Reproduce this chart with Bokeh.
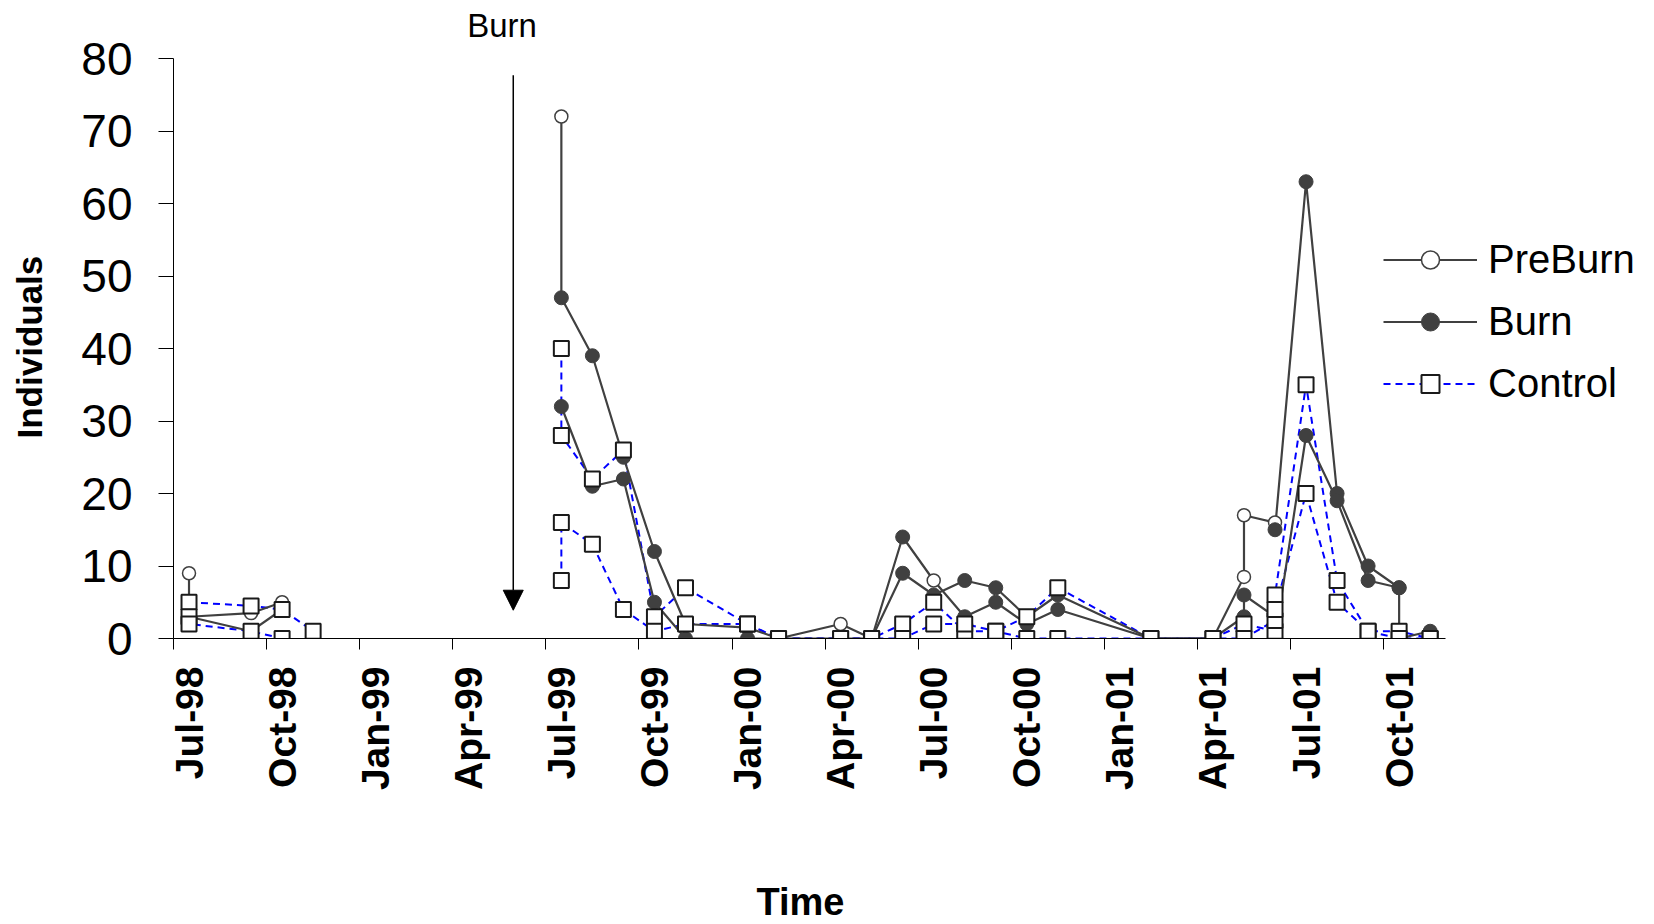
import math
from bokeh.plotting import figure
from bokeh.models import (FixedTicker, Range1d, Legend, LegendItem, Title, Label,
                          Arrow, NormalHead)
from bokeh.embed import file_html
from bokeh.resources import INLINE

# ---------------- data ----------------
tick_labels = ["Jul-98", "Oct-98", "Jan-99", "Apr-99", "Jul-99", "Oct-99", "Jan-00",
               "Apr-00", "Jul-00", "Oct-00", "Jan-01", "Apr-01", "Jul-01", "Oct-01"]
tick_dates = ["1998-07", "1998-10", "1999-01", "1999-04", "1999-07", "1999-10", "2000-01",
              "2000-04", "2000-07", "2000-10", "2001-01", "2001-04", "2001-07", "2001-10"]
y_ticks = [0, 10, 20, 30, 40, 50, 60, 70, 80]

# burn sites, pre-burn sampling (1998)
pre_a_dates = ["1998-07", "1998-07", "1998-09", "1998-10"]
pre_a_vals = [9, 3, 3.5, 5]
pre_b_dates = ["1998-07", "1998-09", "1998-10"]
pre_b_vals = [3, 1, 4]

# burn site A (P = PreBurn marker, B = Burn marker)
burn_a_dates = ["1999-07", "1999-07", "1999-08", "1999-09", "1999-10", "1999-11", "2000-01",
                "2000-02", "2000-04", "2000-05", "2000-06", "2000-07", "2000-08", "2000-09",
                "2000-10", "2000-11", "2001-02", "2001-04", "2001-05", "2001-05", "2001-06",
                "2001-06", "2001-07", "2001-08", "2001-09", "2001-10", "2001-10", "2001-11"]
burn_a_vals = [72, 47, 39, 25, 12, 2, 1.5, 0, 2, 0, 14, 8, 3, 5, 2, 4, 0, 0, 8.5, 17, 16,
               15, 63, 20, 10, 7, 0, 1]
burn_a_phase = ["P", "B", "B", "B", "B", "B", "B", "B", "P", "B", "B", "P", "B", "B",
                "B", "B", "B", "B", "P", "P", "P", "B", "B", "B", "B", "B", "B", "B"]

# burn site B
burn_b_dates = ["1999-07", "1999-08", "1999-09", "1999-10", "1999-11", "2000-01", "2000-02",
                "2000-04", "2000-05", "2000-06", "2000-07", "2000-08", "2000-09", "2000-10",
                "2000-11", "2001-02", "2001-04", "2001-05", "2001-05", "2001-06", "2001-06",
                "2001-07", "2001-08", "2001-09", "2001-10"]
burn_b_vals = [32, 21, 22, 5, 0, 0, 0, 0, 0, 9, 6, 8, 7, 3, 6, 0, 0, 3, 6, 3, 0, 28, 19, 8, 7]

# control sites, 1998
ctrl98_a_dates = ["1998-07", "1998-09", "1998-10", "1998-11"]
ctrl98_a_vals = [5, 4.5, 4, 1]
ctrl98_b_dates = ["1998-07", "1998-07", "1998-09", "1998-10"]
ctrl98_b_vals = [3, 2, 1, 0]

# control sites, 1999-2001
ctrl_a_dates = ["1999-07", "1999-07", "1999-08", "1999-09", "1999-10", "1999-11", "2000-01",
                "2000-02", "2000-04", "2000-05", "2000-06", "2000-07", "2000-08", "2000-09",
                "2000-10", "2000-11", "2001-02", "2001-04", "2001-05", "2001-06", "2001-06",
                "2001-07", "2001-08", "2001-09", "2001-10", "2001-11"]
ctrl_a_vals = [40, 28, 22, 26, 3, 7, 2, 0, 0, 0, 2, 5, 1, 1, 3, 7, 0, 0, 2, 1, 6, 35, 8, 1, 1, 0]
ctrl_b_dates = ["1999-07", "1999-07", "1999-08", "1999-09", "1999-10", "1999-11", "2000-01",
                "2000-02", "2000-04", "2000-05", "2000-06", "2000-07", "2000-08", "2000-09",
                "2000-10", "2000-11", "2001-02", "2001-04", "2001-05", "2001-06", "2001-06",
                "2001-07", "2001-08", "2001-09", "2001-10", "2001-11"]
ctrl_b_vals = [8, 16, 13, 4, 1, 2, 2, 0, 0, 0, 0, 2, 2, 1, 0, 0, 0, 0, 0, 2.5, 4, 20, 5, 1, 0, 0]

burn_event_month = 10.95      # months after start of Jul-98
burn_arrow_top = 77.7
burn_arrow_tip = 3.9
burn_text_month = 10.59
burn_text_y = 84.6


def mpos(s):
    y, m = map(int, s.split("-"))
    return (y - 1998) * 12 + (m - 7) + 0.5


GRAY = "#404040"
BLUE = "#0000ff"
FONT = "Liberation Sans"
N_MONTHS = 41
Y_MAX = 80

p = figure(width=1654, height=924, x_range=Range1d(0, 47.73), y_range=Range1d(0, 88.0),
           output_backend="svg", toolbar_location=None,
           min_border_left=173, min_border_right=0, min_border_top=0, min_border_bottom=286)
p.xgrid.visible = False
p.ygrid.visible = False
p.outline_line_color = None
p.background_fill_color = "white"

# ---- lines ----
ctrl_series = [(ctrl98_a_dates, ctrl98_a_vals), (ctrl98_b_dates, ctrl98_b_vals),
               (ctrl_a_dates, ctrl_a_vals), (ctrl_b_dates, ctrl_b_vals)]
solid_series = [(pre_a_dates, pre_a_vals), (pre_b_dates, pre_b_vals),
                (burn_a_dates, burn_a_vals), (burn_b_dates, burn_b_vals)]

ctrl_line = p.multi_line([[mpos(d) for d in ds] for ds, _ in ctrl_series],
                         [list(vs) for _, vs in ctrl_series],
                         line_color=BLUE, line_width=2, line_dash="7 5")
solid_line = p.multi_line([[mpos(d) for d in ds] for ds, _ in solid_series],
                          [list(vs) for _, vs in solid_series],
                          line_color=GRAY, line_width=2.2)

# ---- markers ----
open_x, open_y, fill_x, fill_y = [], [], [], []
for ds, vs in [(pre_a_dates, pre_a_vals), (pre_b_dates, pre_b_vals)]:
    open_x += [mpos(d) for d in ds]
    open_y += list(vs)
for d, v, ph in zip(burn_a_dates, burn_a_vals, burn_a_phase):
    if ph == "P":
        open_x.append(mpos(d)); open_y.append(v)
    else:
        fill_x.append(mpos(d)); fill_y.append(v)
fill_x += [mpos(d) for d in burn_b_dates]
fill_y += list(burn_b_vals)

sq_x, sq_y = [], []
for ds, vs in ctrl_series:
    sq_x += [mpos(d) for d in ds]
    sq_y += list(vs)

open_r = p.scatter(open_x, open_y, marker="circle", size=13, fill_color="white",
                   line_color=GRAY, line_width=1.5)
fill_r = p.scatter(fill_x, fill_y, marker="circle", size=14, fill_color=GRAY,
                   line_color=GRAY, line_width=1)
sq_r = p.scatter(sq_x, sq_y, marker="square", size=15, fill_color="white",
                 line_color="#1a1a1a", line_width=2)

# ---- axes ----
yax = p.yaxis[0]
yax.ticker = FixedTicker(ticks=y_ticks)
yax.bounds = (0, Y_MAX)
yax.major_tick_out = 15
yax.major_tick_in = 0
yax.minor_tick_out = 0
yax.minor_tick_in = 0
yax.axis_line_color = "black"
yax.major_tick_line_color = "black"
yax.major_label_text_font = FONT
yax.major_label_text_font_size = "46px"
yax.major_label_text_color = "black"
yax.major_label_standoff = 26
# blank axis label used only as spacing before the title panel
yax.axis_label = " "
yax.axis_label_text_font_size = "10px"
yax.axis_label_standoff = 16

p.add_layout(Title(text="Individuals", align="left", offset=200, text_font=FONT,
                   text_font_size="35px", text_font_style="bold", text_color="black",
                   standoff=0), "left")

label_pos = [mpos(d) for d in tick_dates]
bound_pos = [x - 0.5 for x in label_pos]
xax = p.xaxis[0]
xax.ticker = FixedTicker(ticks=label_pos, minor_ticks=bound_pos)
xax.bounds = (0, N_MONTHS)
xax.major_label_overrides = {x: t for x, t in zip(label_pos, tick_labels)}
xax.major_label_orientation = math.pi / 2
xax.major_tick_line_color = None
xax.major_tick_out = 0
xax.major_tick_in = 0
xax.minor_tick_out = 11
xax.minor_tick_in = 0
xax.minor_tick_line_color = "black"
xax.axis_line_color = "black"
xax.major_label_text_font = FONT
xax.major_label_text_font_size = "39px"
xax.major_label_text_font_style = "bold"
xax.major_label_text_color = "black"
xax.major_label_standoff = 17
# blank axis label used only as spacing before the title panel
xax.axis_label = " "
xax.axis_label_text_font_size = "20px"
xax.axis_label_standoff = 60

p.add_layout(Title(text="Time", align="left", offset=583, text_font=FONT,
                   text_font_size="38px", text_font_style="bold", text_color="black",
                   standoff=0), "below")

# ---- burn annotation ----
p.add_layout(Arrow(end=NormalHead(size=20, fill_color="black", line_color="black"),
                   x_start=burn_event_month, y_start=burn_arrow_top,
                   x_end=burn_event_month, y_end=burn_arrow_tip,
                   line_color="black", line_width=1.5))
p.add_layout(Label(x=burn_text_month, y=burn_text_y, text="Burn", text_align="center",
                   text_baseline="alphabetic", text_font=FONT, text_font_size="33px",
                   text_color="black"))

# ---- legend ----
legend = Legend(items=[
    LegendItem(label="PreBurn", renderers=[solid_line, open_r]),
    LegendItem(label="Burn", renderers=[solid_line, fill_r]),
    LegendItem(label="Control", renderers=[ctrl_line, sq_r]),
], location=(1210, 232), glyph_width=94, glyph_height=45, label_height=45,
    label_standoff=11, spacing=17, padding=0, margin=0,
    border_line_color=None, background_fill_alpha=0,
    label_text_font=FONT, label_text_font_size="40px", label_text_color="black")
p.add_layout(legend)

open("out.html", "w").write(file_html(p, INLINE))
